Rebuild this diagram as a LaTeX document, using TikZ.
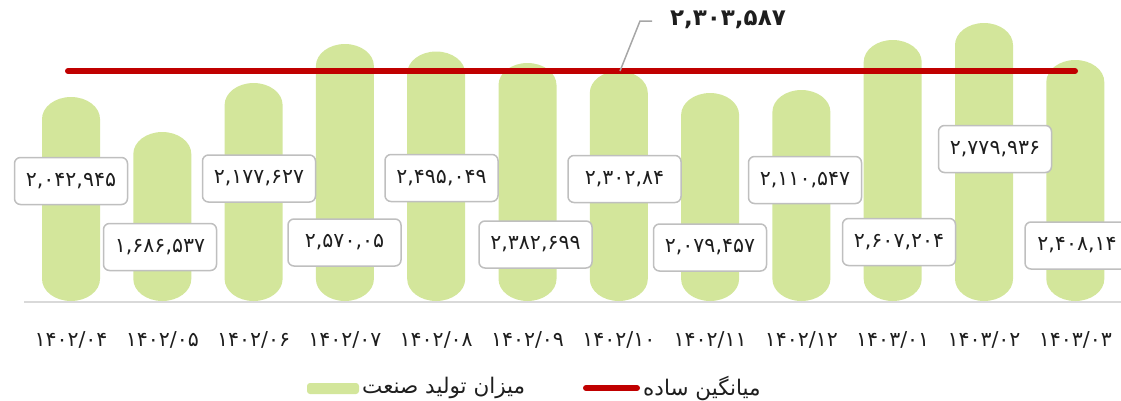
\documentclass[tikz,border=0pt]{standalone}
\usepackage{fontspec}
\newfontfamily\fa[Script=Arabic]{DejaVu Sans}
\TeXXeTstate=1
\definecolor{barg}{RGB}{211,230,155}
\definecolor{avgred}{RGB}{192,0,0}
\definecolor{boxgray}{RGB}{191,191,191}
\definecolor{axgray}{RGB}{217,217,217}
\definecolor{leadgray}{RGB}{166,166,166}
\definecolor{txt}{RGB}{30,30,30}
\begin{document}
\begin{tikzpicture}[x=1pt,y=-1pt,
  valbox/.style={draw=boxgray, line width=1.5pt, fill=white, rounded corners=6pt,
    minimum width=113pt, minimum height=47pt, inner sep=0pt,
    font=\fa\fontsize{20.5}{24}\selectfont, text=txt},
  datelab/.style={font=\fa\fontsize{20.5}{24}\selectfont, text=txt, inner sep=0pt},
  legtext/.style={font=\fa\fontsize{21.5}{25}\selectfont, text=txt, inner sep=0pt, anchor=west},
  avgline/.style={draw=avgred, line width=6pt, line cap=round},
  leader/.style={draw=leadgray, line width=1.5pt},
  axisline/.style={draw=axgray, line width=2pt}]
\useasboundingbox (0,0) rectangle (1121,400);
% axis
\coordinate (ax1) at (24,302);
\coordinate (ax2) at (1121,302);
\draw[axisline] (ax1) -- (ax2);
% bars
\foreach \i/\t in {1/97,2/132,3/83,4/44,5/51.5,6/63,7/71,8/93,9/90,10/40,11/23,12/60}{
  \pgfmathsetmacro\cx{71+91.3*(\i-1)}
  \fill[barg] (\cx-29,279) -- (\cx-29,\t+22)
     arc[start angle=180,end angle=360,x radius=29,y radius=22]
     -- (\cx+29,279)
     arc[start angle=0,end angle=180,x radius=29,y radius=22] -- cycle;
}
% average line
\coordinate (a1) at (68,71);
\coordinate (a2) at (1075,71);
\draw[avgline] (a1) -- (a2);
% value boxes
\node[valbox] (v1) at (71,181) {۲,۰۴۲,۹۴۵};
\node[valbox] (v2) at (160,247) {۱,۶۸۶,۵۳۷};
\node[valbox] (v3) at (259,178.5) {۲,۱۷۷,۶۲۷};
\node[valbox] (v4) at (344.5,242.5) {۲,۵۷۰,۰۵};
\node[valbox] (v5) at (441.5,178) {۲,۴۹۵,۰۴۹};
\node[valbox] (v6) at (535.5,244.5) {۲,۳۸۲,۶۹۹};
\node[valbox] (v7) at (624.5,179) {۲,۳۰۲,۸۴};
\node[valbox] (v8) at (710,247.5) {۲,۰۷۹,۴۵۷};
\node[valbox] (v9) at (805,180) {۲,۱۱۰,۵۴۷};
\node[valbox] (v10) at (899,242) {۲,۶۰۷,۲۰۴};
\node[valbox] (v11) at (995,149) {۲,۷۷۹,۹۳۶};
\node[valbox, minimum width=104pt] (v12) at (1077,245.5) {۲,۴۰۸,۱۴};
% average label
\node[font=\fa\bfseries\fontsize{23}{27}\selectfont, text=txt, inner sep=0pt] (avg) at (728,20) {۲,۳۰۳,۵۸۷};
\coordinate (lp) at (620,71);
\coordinate (lb) at (640,21);
\coordinate (le) at (652,21);
\draw[leader] (lp) -- (lb) -- (le);
% dates
\node[datelab] (d1) at (71,340) {۱۴۰۲/۰۴};
\node[datelab] (d2) at (162.3,340) {۱۴۰۲/۰۵};
\node[datelab] (d3) at (253.6,340) {۱۴۰۲/۰۶};
\node[datelab] (d4) at (344.9,340) {۱۴۰۲/۰۷};
\node[datelab] (d5) at (436.2,340) {۱۴۰۲/۰۸};
\node[datelab] (d6) at (527.5,340) {۱۴۰۲/۰۹};
\node[datelab] (d7) at (618.8,340) {۱۴۰۲/۱۰};
\node[datelab] (d8) at (710.1,340) {۱۴۰۲/۱۱};
\node[datelab] (d9) at (801.4,340) {۱۴۰۲/۱۲};
\node[datelab] (d10) at (892.7,340) {۱۴۰۳/۰۱};
\node[datelab] (d11) at (984,340) {۱۴۰۳/۰۲};
\node[datelab] (d12) at (1075.3,340) {۱۴۰۳/۰۳};
% legend
\fill[barg, rounded corners=3pt] (307,383) rectangle (359,394);
\node[legtext] (l1) at (362,388) {\beginR میزان تولید صنعت\endR};
\coordinate (r1) at (586,388);
\coordinate (r2) at (637,388);
\draw[avgline] (r1) -- (r2);
\node[legtext] (l2) at (643,388) {\beginR میانگین ساده\endR};
\end{tikzpicture}
\end{document}
